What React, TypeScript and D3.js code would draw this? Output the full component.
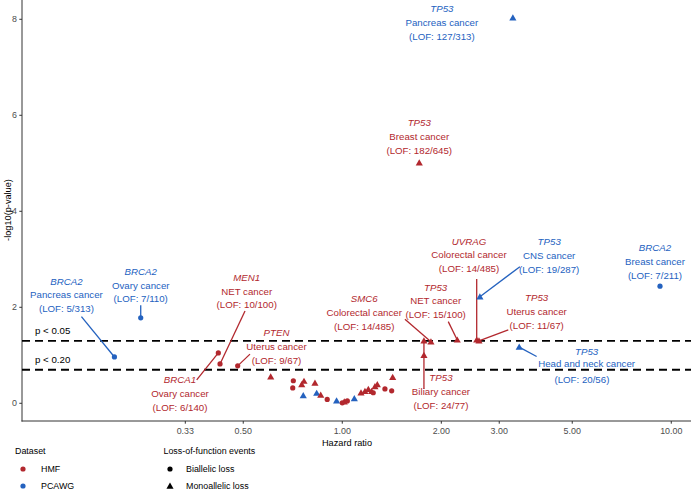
import React from "react";
import * as d3 from "d3";

const HMF_COLOR = "#B2282E";
const PCAWG_COLOR = "#2462BF";

// labelled associations
const labelGene = ["TP53", "TP53", "BRCA2", "BRCA2", "BRCA2", "BRCA1", "MEN1", "PTEN", "SMC6", "TP53", "UVRAG", "TP53", "TP53", "TP53", "TP53"];
const labelCancer = ["Pancreas cancer", "Breast cancer", "Breast cancer", "Ovary cancer", "Pancreas cancer", "Ovary cancer", "NET cancer", "Uterus cancer", "Colorectal cancer", "NET cancer", "Colorectal cancer", "Uterus cancer", "CNS cancer", "Head and neck cancer", "Biliary cancer"];
const labelLof = ["127/313", "182/645", "7/211", "7/110", "5/313", "6/140", "10/100", "9/67", "14/485", "15/100", "14/485", "11/67", "19/287", "20/56", "24/77"];
const labelDataset = ["PCAWG", "HMF", "PCAWG", "PCAWG", "PCAWG", "HMF", "HMF", "HMF", "HMF", "HMF", "HMF", "HMF", "PCAWG", "PCAWG", "HMF"];
const labelEvent = ["mono", "mono", "bi", "bi", "bi", "bi", "bi", "bi", "mono", "mono", "mono", "mono", "mono", "mono", "mono"];
const labelHR = [3.30, 1.714, 9.24, 0.244, 0.203, 0.42, 0.425, 0.481, 1.86, 2.236, 2.562, 2.603, 2.62, 3.45, 1.771];
const labelP = [8.03, 5.01, 2.44, 1.78, 0.965, 1.05, 0.82, 0.78, 1.28, 1.32, 1.32, 1.30, 2.22, 1.17, 1.30];

// remaining associations
const otherHR = [0.606, 0.71, 0.707, 0.753, 0.765, 0.826, 0.761, 0.836, 0.86, 0.9, 0.961, 1.0, 1.014, 1.036, 1.088, 1.14, 1.172, 1.2, 1.228, 1.257, 1.278, 1.242, 1.348, 1.413, 1.423, 1.771];
const otherP = [0.55, 0.47, 0.32, 0.39, 0.46, 0.42, 0.16, 0.21, 0.17, 0.08, 0.05, 0.01, 0.03, 0.05, 0.10, 0.22, 0.25, 0.29, 0.25, 0.35, 0.39, 0.22, 0.30, 0.26, 0.54, 1.0];
const otherDataset = ["HMF", "HMF", "HMF", "HMF", "HMF", "HMF", "PCAWG", "PCAWG", "HMF", "HMF", "PCAWG", "HMF", "HMF", "HMF", "PCAWG", "HMF", "HMF", "HMF", "HMF", "HMF", "HMF", "HMF", "HMF", "HMF", "HMF", "HMF"];
const otherEvent = ["mono", "bi", "bi", "mono", "mono", "mono", "mono", "mono", "mono", "bi", "mono", "bi", "mono", "bi", "mono", "mono", "mono", "mono", "mono", "mono", "mono", "bi", "bi", "bi", "mono", "mono"];

const xTicks = [1 / 3, 0.5, 1, 2, 3, 5, 10];
const yTicks = [0, 2, 4, 6, 8];
const cutoffP = [0.05, 0.2];
const cutoffText = ["p < 0.05", "p < 0.20"];

// label placement (px offsets from the point): text dx, dy, segment start sdx, sdy
const labelPlace: (number[] | null)[] = [
  [-71, 4.7, null, null],
  [0, -26, null, null],
  [-5, -24.7, null, null],
  [0, -32.7, 0, -12.7],
  [-48, -62, -33, -40.3],
  [-38.3, 41, -21.6, 27],
  [26.7, -72.7, 25, -53],
  [38.8, -19, 12.3, -11.7],
  [-66.7, -29.3, -26, -22.7],
  [-21.6, -39, -9, -18.3],
  [-7.7, -85, 0, -61],
  [57.7, -29.3, 29.3, -11],
  [69.3, -41.4, 40, -30],
  [67.4, 16.7, 17.4, 9.4],
  [17, 50.7, 0, 48],
] as any;

const W = 691;
const H = 491;
const FONT = "'Liberation Sans', Arial, Helvetica, sans-serif";

const x = d3.scaleLog().domain([0.1063, 11.48]).range([22, 691]);
const y = d3.scaleLinear().domain([-0.369, 8.402]).range([421, 0]);

const colorOf = (d: string) => (d === "HMF" ? HMF_COLOR : PCAWG_COLOR);
const tri = d3.symbol().type(d3.symbolTriangle).size(22)()!;
const triLegend = d3.symbol().type(d3.symbolTriangle).size(22)()!;

const Marker = ({ cx, cy, ev, fill }: { cx: number; cy: number; ev: string; fill: string }) =>
  ev === "bi" ? (
    <circle cx={cx} cy={cy} r={2.6} fill={fill} />
  ) : (
    <path d={tri} transform={`translate(${cx},${cy + 0.6})`} fill={fill} />
  );

export default function App() {
  const lineGap = 13.8;
  return (
    <svg
      width={W}
      height={H}
      style={{ position: "fixed", left: 0, top: 0, background: "#fff" }}
      fontFamily={FONT}
    >
      {/* y axis */}
      <line x1={22} x2={22} y1={0} y2={421.5} stroke="#333" strokeWidth={1} />
      {yTicks.map((t) => (
        <g key={t} transform={`translate(0,${y(t)})`}>
          <line x1={19.3} x2={22} stroke="#333" strokeWidth={1} />
          <text x={17} dy="0.35em" textAnchor="end" fontSize={8.9} fill="#4D4D4D">
            {t}
          </text>
        </g>
      ))}
      <text
        transform={`translate(8,210) rotate(-90)`}
        textAnchor="middle"
        dy="0.35em"
        fontSize={9.2}
        fill="#000"
      >
        -log10(p-value)
      </text>

      {/* x axis */}
      <line x1={21.5} x2={691} y1={421} y2={421} stroke="#333" strokeWidth={1} />
      {xTicks.map((t) => (
        <g key={t} transform={`translate(${x(t)},0)`}>
          <line y1={421} y2={423.7} stroke="#333" strokeWidth={1} />
          <text y={430.5} dy="0.35em" textAnchor="middle" fontSize={8.9} fill="#4D4D4D">
            {t.toFixed(2)}
          </text>
        </g>
      ))}
      <text x={347} y={443} dy="0.35em" textAnchor="middle" fontSize={9.2} fill="#000">
        Hazard ratio
      </text>

      {/* significance cut-offs */}
      {cutoffP.map((p, i) => {
        const yy = y(-Math.log10(p));
        return (
          <g key={p}>
            <line x1={22} x2={691} y1={yy} y2={yy} stroke="#000" strokeWidth={1.8} strokeDasharray="8,5" />
            <text x={35} y={yy - 10.5} dy="0.35em" fontSize={9.7} fill="#000">
              {cutoffText[i]}
            </text>
          </g>
        );
      })}

      {/* unlabelled points */}
      {otherHR.map((hr, i) => (
        <Marker key={"o" + i} cx={x(hr)} cy={y(otherP[i])} ev={otherEvent[i]} fill={colorOf(otherDataset[i])} />
      ))}

      {/* labelled points with segments */}
      {labelHR.map((hr, i) => {
        const px = x(hr);
        const py = y(labelP[i]);
        const pl = labelPlace[i] as any[];
        const col = colorOf(labelDataset[i]);
        const lx = px + pl[0];
        const ly = py + pl[1];
        const custom = labelCancer[i] === "Head and neck cancer";
        const dys = custom ? [-12.3, 0, 16] : [-lineGap, 0, lineGap];
        return (
          <g key={"l" + i}>
            {pl[2] !== null && (
              <line x1={px + pl[2]} y1={py + pl[3]} x2={px} y2={py} stroke={col} strokeWidth={1.3} />
            )}
            <Marker cx={px} cy={py} ev={labelEvent[i]} fill={col} />
            <g fill={col} fontSize={9.7} textAnchor="middle">
              <text x={lx} y={ly + dys[0]} dy="0.35em" fontStyle="italic">
                {labelGene[i]}
              </text>
              <text x={lx} y={ly + dys[1]} dy="0.35em">
                {labelCancer[i]}
              </text>
              <text x={custom ? lx - 4.7 : lx} y={ly + dys[2]} dy="0.35em">
                {`(LOF: ${labelLof[i]})`}
              </text>
            </g>
          </g>
        );
      })}

      {/* legends */}
      <g fontSize={8.9} fill="#000">
        <text x={15} y={451} dy="0.35em">Dataset</text>
        <circle cx={23} cy={469} r={2.6} fill={HMF_COLOR} />
        <text x={41} y={469} dy="0.35em">HMF</text>
        <circle cx={23} cy={486} r={2.6} fill={PCAWG_COLOR} />
        <text x={41} y={486} dy="0.35em">PCAWG</text>

        <text x={163.5} y={451} dy="0.35em">Loss-of-function events</text>
        <circle cx={170} cy={469} r={2.6} fill="#000" />
        <text x={186} y={469} dy="0.35em">Biallelic loss</text>
        <path d={triLegend} transform="translate(170,486.6)" fill="#000" />
        <text x={186} y={486} dy="0.35em">Monoallelic loss</text>
      </g>
    </svg>
  );
}
